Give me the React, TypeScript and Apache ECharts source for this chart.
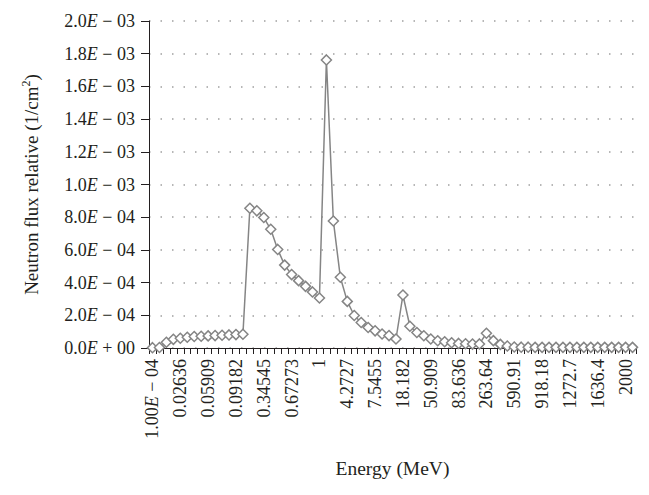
import React, { useEffect, useRef } from "react";
import * as echarts from "echarts";

const energyCategories: string[] = [
  "1.00E-04", "0.001", "0.01", "0.018182", "0.02636", "0.034545", "0.042727", "0.050909",
  "0.05909", "0.067273", "0.075455", "0.083636", "0.09182", "0.1", "0.18182", "0.26364",
  "0.34545", "0.42727", "0.50909", "0.59091", "0.67273", "0.75455", "0.83636", "0.91818",
  "1", "1.8182", "2.6364", "3.4545", "4.2727", "5.0909", "5.9091", "6.7273",
  "7.5455", "8.3636", "9.1818", "10", "18.182", "26.364", "34.545", "42.727",
  "50.909", "59.091", "67.273", "75.455", "83.636", "91.818", "100", "181.82",
  "263.64", "345.45", "427.27", "509.09", "590.91", "672.73", "754.55", "836.36",
  "918.18", "1000", "1090.9", "1181.8", "1272.7", "1363.6", "1454.5", "1545.5",
  "1636.4", "1727.3", "1818.2", "1909.1", "2000", "2090.9",
];

const neutronFlux: number[] = [
  0.02e-4, 0.03e-4, 0.35e-4, 0.53e-4, 0.6e-4, 0.66e-4, 0.7e-4, 0.72e-4,
  0.74e-4, 0.76e-4, 0.78e-4, 0.8e-4, 0.82e-4, 0.84e-4, 8.55e-4, 8.39e-4,
  7.98e-4, 7.26e-4, 6.03e-4, 5.07e-4, 4.49e-4, 4.12e-4, 3.77e-4, 3.43e-4,
  3.06e-4, 17.62e-4, 7.77e-4, 4.33e-4, 2.85e-4, 1.99e-4, 1.56e-4, 1.25e-4,
  1.05e-4, 0.86e-4, 0.76e-4, 0.55e-4, 3.24e-4, 1.33e-4, 0.95e-4, 0.75e-4,
  0.55e-4, 0.44e-4, 0.38e-4, 0.32e-4, 0.28e-4, 0.26e-4, 0.24e-4, 0.25e-4,
  0.9e-4, 0.45e-4, 0.22e-4, 0.12e-4, 0.06e-4, 0.05e-4, 0.05e-4, 0.04e-4,
  0.04e-4, 0.04e-4, 0.04e-4, 0.04e-4, 0.04e-4, 0.04e-4, 0.04e-4, 0.04e-4,
  0.04e-4, 0.04e-4, 0.04e-4, 0.04e-4, 0.04e-4, 0.04e-4,
];

const yMin = 0;
const yMax = 2.0e-3;
const yStep = 2.0e-4;

const FONT = "'Liberation Serif', 'DejaVu Serif', serif";
const FS = 18;
const TEXT = "#231f20";

function sciLabel(v: number): string {
  if (v === 0) return "{n|0.0}{e|E}{n| + 00}";
  const exp = Math.floor(Math.log10(Math.abs(v)) + 1e-9);
  const mant = v / Math.pow(10, exp);
  const sign = exp < 0 ? "−" : "+";
  const ae = Math.abs(exp);
  const es = ae < 10 ? "0" + ae : String(ae);
  return `{n|${mant.toFixed(1)}}{e|E}{n| ${sign} ${es}}`;
}

function catLabel(s: string): string {
  const m = s.match(/^([\d.]+)E-(\d+)$/);
  if (m) return `{n|${m[1]}}{e|E}{n| − ${m[2]}}`;
  return `{n|${s}}`;
}

const richText = {
  n: { fontFamily: FONT, fontSize: FS, color: TEXT },
  e: { fontFamily: FONT, fontSize: FS, fontStyle: "italic", color: TEXT },
};

export default function App() {
  const ref = useRef<HTMLDivElement>(null);
  useEffect(() => {
    if (!ref.current) return;
    const chart = echarts.init(ref.current, undefined, { renderer: "svg" });
    chart.setOption({
      animation: false,
      backgroundColor: "#ffffff",
      grid: { left: 141, right: 13, top: 13, bottom: 147, containLabel: false },
      xAxis: {
        type: "category",
        data: energyCategories,
        boundaryGap: true,
        name: "Energy (MeV)",
        nameLocation: "middle",
        nameGap: 110,
        nameTextStyle: { fontFamily: FONT, fontSize: 19.5, color: TEXT },
        axisLine: { show: true, lineStyle: { color: TEXT, width: 1 } },
        axisTick: { show: true, interval: 0, length: 6, lineStyle: { color: TEXT } },
        axisLabel: {
          interval: 3,
          rotate: 90,
          margin: 11,
          formatter: (v: string) => catLabel(v),
          rich: richText,
        },
        splitLine: { show: false },
      },
      yAxis: {
        type: "value",
        min: yMin,
        max: yMax,
        interval: yStep,
        name: "{t|Neutron flux relative (1/cm}{s|2}{t|)}",
        nameLocation: "middle",
        nameGap: 106,
        nameRotate: 90,
        nameTextStyle: {
          fontFamily: FONT,
          fontSize: 19,
          color: TEXT,
          rich: {
            t: { fontFamily: FONT, fontSize: 19, color: TEXT, lineHeight: 23 },
            s: { fontFamily: FONT, fontSize: 12, color: TEXT, verticalAlign: "top", lineHeight: 23 },
          },
        },
        axisLine: { show: true, lineStyle: { color: TEXT, width: 1 } },
        axisTick: { show: true, length: 8, lineStyle: { color: TEXT } },
        axisLabel: {
          margin: 14,
          formatter: (v: number) => sciLabel(v),
          rich: richText,
        },
        splitLine: {
          show: true,
          lineStyle: { color: "#a0a0a0", width: 1.5, type: [1.5, 10] },
        },
      },
      series: [
        {
          type: "line",
          data: neutronFlux,
          symbol: "diamond",
          symbolSize: 10,
          showAllSymbol: true,
          lineStyle: { color: "#858585", width: 1.5 },
          itemStyle: { color: "#ffffff", borderColor: "#858585", borderWidth: 1.5 },
          z: 3,
        },
      ],
    });
    return () => chart.dispose();
  }, []);
  return <div ref={ref} style={{ width: 641, height: 487 }} />;
}
